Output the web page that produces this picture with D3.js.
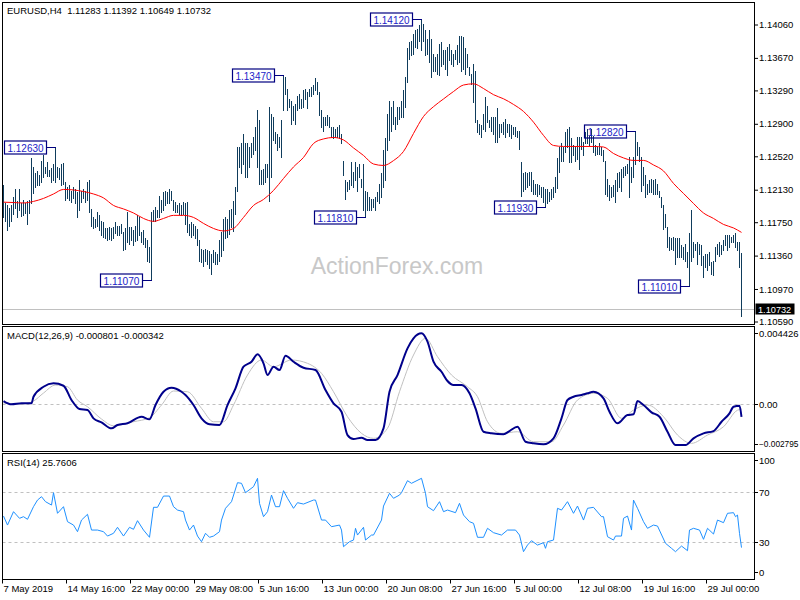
<!DOCTYPE html>
<html>
<head>
<meta charset="utf-8">
<script src="https://cdn.jsdelivr.net/npm/d3@7/dist/d3.min.js"></script>
<style>
html,body{margin:0;padding:0;background:#fff;}
svg{display:block;}
text{font-family:"Liberation Sans",Arial,sans-serif;}
</style>
</head>
<body>
<svg id="chart" width="800" height="600"></svg>
<script>
// ---------------- DATA ----------------
const symbolTitle = "EURUSD,H4  1.11283 1.11392 1.10649 1.10732";
const macdTitle = "MACD(12,26,9) -0.000801 -0.000342";
const rsiTitle = "RSI(14) 25.7606";
const watermark = "ActionForex.com";

// H4 bar highs / lows in pips (price * 10000)
const highPips = [
11218,11197,11195,11192,11195,11204,11214,11200,11214,11197,
11201,11197,11200,11201,11250,11239,11232,11235,11230,11247,
11254,11240,11245,11236,11238,11243,11263,11240,11238,11243,
11244,11222,11216,11218,11212,11216,11214,11210,11224,11212,
11214,11211,11222,11224,11191,11181,11179,11187,11183,11177,
11175,11168,11168,11169,11168,11169,11175,11171,11170,11173,
11164,11168,11187,11169,11169,11166,11170,11183,11181,11164,
11166,11156,11154,11146,11187,11189,11193,11189,11206,11201,
11210,11212,11210,11214,11212,11201,11199,11195,11197,11195,
11199,11197,11199,11173,11175,11173,11171,11167,11154,11144,
11142,11144,11142,11141,11138,11142,11140,11138,11154,11163,
11179,11181,11179,11189,11191,11200,11216,11263,11263,11267,
11278,11267,11267,11263,11267,11274,11286,11306,11294,11236,
11237,11243,11243,11310,11302,11298,11280,11278,11274,11294,
11347,11345,11331,11319,11317,11311,11313,11323,11325,11319,
11329,11331,11327,11331,11333,11335,11343,11339,11327,11306,
11298,11298,11300,11298,11286,11286,11284,11286,11288,11278,
11247,11224,11222,11224,11245,11234,11245,11239,11243,11226,
11243,11212,11210,11204,11202,11202,11204,11210,11220,11232,
11259,11273,11302,11317,11310,11317,11298,11310,11310,11317,
11329,11345,11378,11385,11387,11395,11399,11401,11405,11412,
11407,11399,11389,11399,11389,11372,11368,11372,11383,11385,
11376,11376,11380,11383,11376,11372,11376,11382,11393,11393,
11391,11378,11372,11356,11348,11360,11352,11294,11290,11288,
11302,11321,11311,11294,11298,11298,11298,11308,11290,11290,
11292,11296,11290,11290,11288,11286,11286,11282,11282,11245,
11232,11234,11232,11234,11234,11224,11220,11220,11218,11216,
11216,11214,11214,11210,11214,11216,11228,11250,11263,11267,
11263,11280,11284,11286,11273,11265,11263,11274,11274,11274,
11269,11280,11284,11276,11284,11276,11265,11263,11267,11263,
11259,11247,11226,11218,11216,11218,11224,11232,11234,11237,
11239,11241,11243,11251,11239,11251,11282,11269,11263,11251,
11239,11230,11220,11224,11226,11224,11226,11220,11212,11204,
11195,11185,11169,11158,11156,11158,11156,11156,11156,11148,
11146,11150,11140,11162,11189,11152,11150,11152,11150,11148,
11136,11138,11138,11140,11128,11130,11146,11150,11152,11148,
11154,11160,11160,11160,11158,11160,11162,11152,11152,11139.2];
const lowPips = [
11181,11177,11166,11170,11177,11185,11192,11181,11189,11182,
11183,11186,11173,11186,11197,11209,11216,11218,11218,11222,
11228,11232,11229,11229,11222,11224,11222,11228,11226,11218,
11220,11201,11203,11201,11199,11203,11197,11181,11189,11199,
11203,11199,11201,11187,11171,11168,11169,11171,11166,11160,
11158,11156,11154,11155,11154,11156,11162,11160,11160,11162,
11142,11144,11152,11150,11154,11148,11153,11154,11160,11152,
11150,11146,11130,11129,11107,11177,11177,11181,11181,11187,
11189,11195,11197,11197,11201,11189,11187,11187,11185,11183,
11185,11173,11164,11160,11158,11160,11156,11148,11130,11128,
11124,11130,11126,11122,11115,11128,11126,11126,11130,11136,
11142,11156,11158,11161,11169,11165,11185,11212,11239,11232,
11243,11228,11228,11239,11251,11255,11259,11239,11220,11220,
11220,11222,11228,11200,11228,11271,11267,11259,11263,11251,
11306,11325,11306,11310,11290,11294,11290,11306,11308,11308,
11310,11319,11308,11323,11323,11325,11329,11325,11300,11286,
11282,11288,11288,11286,11274,11273,11274,11274,11273,11267,
11230,11202,11212,11214,11218,11216,11224,11212,11228,11216,
11189,11181,11189,11189,11189,11193,11189,11200,11197,11204,
11216,11224,11259,11271,11282,11290,11284,11290,11296,11298,
11298,11310,11339,11366,11370,11372,11380,11378,11387,11376,
11387,11370,11372,11362,11345,11352,11352,11348,11347,11358,
11360,11354,11347,11364,11360,11358,11366,11360,11362,11352,
11354,11348,11356,11347,11337,11315,11292,11280,11278,11274,
11284,11282,11292,11286,11282,11278,11269,11269,11274,11280,
11278,11274,11280,11276,11273,11278,11276,11274,11261,11206,
11212,11214,11216,11218,11212,11208,11208,11206,11208,11204,
11199,11193,11197,11200,11202,11204,11210,11215,11234,11247,
11247,11257,11263,11245,11245,11253,11247,11249,11237,11261,
11253,11267,11267,11265,11269,11257,11253,11255,11255,11253,
11247,11208,11206,11201,11204,11206,11199,11212,11216,11212,
11228,11230,11232,11204,11222,11228,11243,11253,11247,11212,
11218,11204,11208,11210,11210,11208,11208,11208,11204,11193,
11167,11169,11146,11142,11144,11142,11126,11134,11134,11134,
11132,11130,11123,11101,11130,11134,11142,11126,11138,11125,
11111,11123,11119,11125,11115,11113,11130,11138,11136,11138,
11142,11148,11142,11146,11152,11152,11146,11142,11123,11064.9];

// red moving average (bar index, price)
const maBars = [0,5,10,15,20,25,30,35,40,45,50,55,60,65,70,75,80,85,90,95,100,105,110,115,120,125,130,135,140,145,150,155,160,165,170,175,180,185,190,195,200,205,210,215,220,225,230,235,240,245,250,255,260,265,270,275,280,285,290,295,300,305,310,315,320,325,330,335,340,345,350,355,360,365,369];
const maValues = [1.11984,1.11980,1.11975,1.11993,1.12028,1.12080,1.12133,1.12127,1.12109,1.12080,1.12034,1.11946,1.11905,1.11858,1.11794,1.11760,1.11794,1.11830,1.11830,1.11806,1.11736,1.11677,1.11648,1.11677,1.11806,1.11946,1.12016,1.12121,1.12261,1.12396,1.12507,1.12670,1.12723,1.12740,1.12711,1.12618,1.12530,1.12430,1.12413,1.12470,1.12577,1.12787,1.12985,1.13100,1.13190,1.13277,1.13353,1.13367,1.13312,1.13240,1.13192,1.13126,1.13044,1.12919,1.12764,1.12647,1.12635,1.12635,1.12635,1.12635,1.12629,1.12553,1.12501,1.12472,1.12472,1.12419,1.12349,1.12203,1.12086,1.11969,1.11858,1.11794,1.11724,1.11683,1.11631];

// MACD main line (bar index, value)
const macdBars = [0,4,9,14,15,20,25,30,34,38,42,45,49,54,57,62,69,73,76,80,84,89,91,95,99,103,108,112,116,120,124,127,130,132,135,138,141,145,150,156,161,165,169,172,175,179,182,186,190,193,197,202,205,209,212,215,219,222,225,229,233,236,240,244,250,253,257,261,265,270,275,279,282,285,289,292,295,300,303,307,312,315,317,320,324,328,332,336,341,345,350,355,359,363,365,368,369];
const macdValues = [0.000158,-0.000043,0.000018,0.000018,0.000420,0.001030,0.001237,0.001091,0.000219,-0.000329,-0.000390,-0.000896,-0.001140,-0.001505,-0.001304,-0.001200,-0.000798,-0.000957,-0.000085,0.000725,0.000969,0.000725,0.000524,-0.000085,-0.000896,-0.001261,-0.001304,-0.000085,0.000932,0.002249,0.002553,0.003004,0.002456,0.001743,0.002249,0.002048,0.002919,0.002553,0.002188,0.002048,0.000829,0.000018,-0.000494,-0.001914,-0.002157,-0.002078,-0.002218,-0.002218,-0.001505,0.000725,0.001743,0.003370,0.003979,0.004284,0.003772,0.002553,0.001944,0.001377,0.001133,0.001133,0.000628,-0.000286,-0.001712,-0.001810,-0.001871,-0.001670,-0.001408,-0.002322,-0.002419,-0.002480,-0.002115,-0.000896,0.000219,0.000420,0.000524,0.000628,0.000725,0.000323,-0.000494,-0.001200,-0.000695,-0.000652,0.000158,-0.000085,-0.000530,-0.000798,-0.001712,-0.002523,-0.002523,-0.002115,-0.001810,-0.001670,-0.001103,-0.000591,-0.000189,-0.000128,-0.000801];

// MACD signal line (bar index, value)
const signalBars = [0,9,15,20,26,32,37,42,49,55,65,73,79,85,92,99,105,110,115,122,129,135,144,152,159,165,172,179,185,192,198,205,211,217,224,232,237,242,249,257,265,274,280,287,295,302,309,315,322,330,337,344,352,360,367,369];
const signalValues = [0.000037,-0.000024,0.000158,0.000646,0.001133,0.001030,0.000219,-0.000189,-0.000938,-0.001347,-0.001103,-0.000859,-0.000085,0.000768,0.000725,-0.000286,-0.001103,-0.001103,-0.000085,0.001743,0.002657,0.002249,0.002657,0.002456,0.001846,0.000725,-0.000798,-0.001810,-0.002115,-0.001505,0.000725,0.002962,0.003979,0.002858,0.001743,0.001030,0.000420,-0.001103,-0.001810,-0.001712,-0.002322,-0.002322,-0.001304,0.000219,0.000628,0.000323,-0.000896,-0.000390,-0.000085,-0.000798,-0.001914,-0.002419,-0.001914,-0.001408,-0.000400,-0.000342];

// RSI(14) (bar index, value)
const rsiBars = [0,2,5,8,10,12,15,17,19,21,24,25,27,30,32,35,37,39,42,44,47,50,52,55,57,60,63,65,67,70,73,75,77,80,83,85,87,90,91,93,95,97,99,101,103,105,108,109,111,114,117,119,121,125,127,128,130,132,134,136,138,140,142,145,147,150,155,156,159,161,164,168,169,170,173,175,176,177,180,181,184,185,189,190,193,195,198,199,202,204,209,211,212,215,218,220,222,226,228,230,233,235,237,240,242,245,249,252,256,258,260,262,264,267,270,271,272,275,277,279,282,285,287,290,292,295,299,300,302,305,306,309,310,312,314,315,317,320,322,325,327,331,334,336,339,342,343,345,348,350,352,355,357,360,362,365,366,367,368,369];
const rsiValues = [51,43.8,54.5,49.2,50.5,48.4,58.5,63.8,66.5,62.5,59.8,69.7,53.2,58.5,46.5,43.8,38.5,47.8,52.4,39.8,39.8,38.5,35,37.2,42,35,42,40.4,47.3,39.8,34,58,58,67,67,58.5,55.8,54.5,47.8,39.8,43.8,35,30.5,37.2,34,35,38.5,47.8,57.2,62.5,77.7,77.2,69.7,74.5,81.2,61.2,50.5,54.5,67.8,58.5,58.5,71.3,65.2,57.2,61.7,60.6,63.8,63.8,47.8,47.8,42.5,43.8,39.8,26.5,30.5,31.8,41.2,35.8,42,31.8,35.8,35.8,47.8,59,69.2,65.2,67.8,69.7,79.3,77.2,81.2,69.2,58.5,55.3,62.5,54.5,55.8,53.7,61.2,51.8,46.5,45.2,34,34,41.2,37.7,35.8,39.8,39.8,35.8,22.5,27.8,31.3,27.8,29.7,25.2,30.5,31.8,57.2,55.8,62.5,53.2,59,47.8,57.2,58,50.5,50.5,34.5,31.8,35,35,49.2,51,39.8,63.8,57.2,46.5,41.2,43.8,43,29.2,25.2,22.5,27,23.3,39.8,41.2,39.8,32.4,41.2,36.6,47.8,45.7,53.2,53.7,50.5,51.8,37.2,25.7606];
const rsiLevels = [70, 30];

// axis labels
const timeLabels = ["7 May 2019","14 May 16:00","22 May 00:00","29 May 08:00","5 Jun 16:00","13 Jun 00:00","20 Jun 08:00","27 Jun 16:00","5 Jul 00:00","12 Jul 08:00","19 Jul 16:00","29 Jul 00:00"];
const timeLabelBars = [0,32,64,96,128,160,192,224,256,288,320,352];
const priceTicks = [1.14060,1.13670,1.13290,1.12900,1.12520,1.12130,1.11750,1.11360,1.10970,1.10590];
const macdTicks = [0.004426, 0, -0.002795];
const rsiTicks = [100, 70, 30, 0];

// swing-point price labels
const annBars = [26,74,140,181,209,271,316,343];
const annPrices = [1.12630,1.11070,1.13470,1.11810,1.14120,1.11930,1.12820,1.11010];
const lastPrice = 1.10732;

// ---------------- DRAW ----------------
const svg = d3.select("#chart");
const FS = 9.5;
const plotL = 2.5, plotR = 754.5;
const mainP = {top: 2.5, bottom: 324.5};
const macdP = {top: 326.5, bottom: 451.5};
const rsiP = {top: 453.5, bottom: 579.5};

const x = d3.scaleLinear().domain([0, highPips.length - 1]).range([3.5, 741.5]);
const yPrice = d3.scaleLinear().domain([1.10590, 1.14060]).range([321.5, 24.5]);
const yMacd = d3.scaleLinear().domain([-0.002795, 0.004426]).range([449.5, 331]);
const yRsi = d3.scaleLinear().domain([0, 100]).range([579.8, 454.8]);

const defs = svg.append("defs");
function addClip(id, p) {
  defs.append("clipPath").attr("id", id).append("rect")
    .attr("x", plotL).attr("y", p.top).attr("width", plotR - plotL).attr("height", p.bottom - p.top);
}
addClip("cMain", mainP); addClip("cMacd", macdP); addClip("cRsi", rsiP);

// watermark
svg.append("text").attr("x", 397).attr("y", 274).attr("text-anchor", "middle")
  .attr("font-size", 23).attr("fill", "#c8c8c8").text(watermark);

// ---- main panel ----
const gMain = svg.append("g").attr("clip-path", "url(#cMain)");
const lastY = Math.round(yPrice(lastPrice)) + 0.5;
gMain.append("line").attr("x1", plotL).attr("x2", plotR).attr("y1", lastY).attr("y2", lastY)
  .attr("stroke", "#c0c0c0").attr("stroke-width", 1);

const bars = highPips.map((h, i) => ({i, high: h / 1e4, low: lowPips[i] / 1e4}));
gMain.selectAll("line.bar").data(bars).join("line").attr("class", "bar")
  .attr("x1", d => x(d.i)).attr("x2", d => x(d.i))
  .attr("y1", d => Math.round(yPrice(d.high)))
  .attr("y2", d => Math.round(yPrice(d.low)) + 1)
  .attr("stroke", "#0f3c5c").attr("stroke-width", 1).attr("shape-rendering", "crispEdges");

const maData = maBars.map((b, k) => ({i: b, v: maValues[k]}));
gMain.append("path").datum(maData)
  .attr("d", d3.line().x(d => x(d.i)).y(d => yPrice(d.v)).curve(d3.curveMonotoneX))
  .attr("fill", "none").attr("stroke", "#ff0000").attr("stroke-width", 1);

// price labels
const gAnn = svg.append("g");
annBars.forEach((b, k) => {
  const px = x(b), py = Math.round(yPrice(annPrices[k])) + 0.5;
  const bw = 42, bh = 13;
  const bx = Math.round(px - 10 - bw) + 0.5;
  gAnn.append("line").attr("x1", bx + bw).attr("x2", px + 0.5).attr("y1", py).attr("y2", py)
    .attr("stroke", "#000080").attr("stroke-width", 1);
  gAnn.append("rect").attr("x", bx).attr("y", py - bh / 2).attr("width", bw).attr("height", bh)
    .attr("fill", "none").attr("stroke", "#000080").attr("stroke-width", 1.2);
  gAnn.append("text").attr("x", bx + 3).attr("y", py + 4)
    .attr("font-family", "'DejaVu Sans Mono','Liberation Mono',monospace")
    .attr("font-size", 10.5).attr("fill", "#1c1cc8")
    .attr("textLength", 36).attr("lengthAdjust", "spacingAndGlyphs")
    .text(d3.format(".5f")(annPrices[k]));
});

// ---- MACD panel ----
const gMacd = svg.append("g").attr("clip-path", "url(#cMacd)");
const zeroY = Math.round(yMacd(0)) + 0.5;
gMacd.append("line").attr("x1", plotL).attr("x2", plotR).attr("y1", zeroY).attr("y2", zeroY)
  .attr("stroke", "#c0c0c0").attr("stroke-dasharray", "3,3");
const sigData = signalBars.map((b, k) => ({i: b, v: signalValues[k]}));
gMacd.append("path").datum(sigData)
  .attr("d", d3.line().x(d => x(d.i)).y(d => yMacd(d.v)).curve(d3.curveMonotoneX))
  .attr("fill", "none").attr("stroke", "#c0c0c0").attr("stroke-width", 1);
const macdData = macdBars.map((b, k) => ({i: b, v: macdValues[k]}));
gMacd.append("path").datum(macdData)
  .attr("d", d3.line().x(d => x(d.i)).y(d => yMacd(d.v)).curve(d3.curveMonotoneX))
  .attr("fill", "none").attr("stroke", "#00008b").attr("stroke-width", 2).attr("stroke-linejoin", "round");

// ---- RSI panel ----
const gRsi = svg.append("g").attr("clip-path", "url(#cRsi)");
gRsi.selectAll("line.lvl").data(rsiLevels).join("line").attr("class", "lvl")
  .attr("x1", plotL).attr("x2", plotR)
  .attr("y1", d => Math.round(yRsi(d)) + 0.5).attr("y2", d => Math.round(yRsi(d)) + 0.5)
  .attr("stroke", "#c0c0c0").attr("stroke-dasharray", "3,3");
const rsiData = rsiBars.map((b, k) => ({i: b, v: rsiValues[k]}));
gRsi.append("path").datum(rsiData)
  .attr("d", d3.line().x(d => x(d.i)).y(d => yRsi(d.v)))
  .attr("fill", "none").attr("stroke", "#1e90ff").attr("stroke-width", 1);

// ---- frames ----
[mainP, macdP, rsiP].forEach(p => {
  svg.append("rect").attr("x", plotL).attr("y", p.top).attr("width", plotR - plotL).attr("height", p.bottom - p.top)
    .attr("fill", "none").attr("stroke", "#000").attr("stroke-width", 1).attr("shape-rendering", "crispEdges");
});

// ---- axes ----
function styleAxis(g) {
  g.select(".domain").remove();
  g.attr("font-size", FS).attr("font-family", "'Liberation Sans',Arial,sans-serif");
  g.selectAll(".tick line").attr("stroke", "#000");
  g.selectAll(".tick text").attr("fill", "#000");
}
function fitRight(g) {
  // shrink only labels that would run past the 800px canvas
  g.selectAll(".tick text").each(function () {
    const w = this.getComputedTextLength();
    if (w > 39.5) d3.select(this).attr("font-size", (FS * 39.5 / w).toFixed(2));
  });
}
svg.append("g").attr("transform", `translate(${plotR - 0.5},0)`)
  .call(d3.axisRight(yPrice).tickValues(priceTicks).tickSize(4).tickPadding(1).tickFormat(d3.format(".5f")))
  .call(styleAxis);

function clampTicks(g, scale, p) {
  g.selectAll(".tick").attr("transform", d =>
    `translate(0,${Math.max(p.top + 7, Math.min(p.bottom - 7, Math.round(scale(d)) + 0.5))})`);
}
svg.append("g").attr("transform", `translate(${plotR - 0.5},0)`)
  .call(d3.axisRight(yMacd).tickValues(macdTicks).tickSize(4).tickPadding(1)
    .tickFormat(d => d === 0 ? "0.00" : d3.format(".6f")(d)))
  .call(styleAxis).call(fitRight).call(g => clampTicks(g, yMacd, macdP));
svg.append("g").attr("transform", `translate(${plotR - 0.5},0)`)
  .call(d3.axisRight(yRsi).tickValues(rsiTicks).tickSize(4).tickPadding(1).tickFormat(d3.format("d")))
  .call(styleAxis).call(g => clampTicks(g, yRsi, rsiP));

// last price tag
svg.append("rect").attr("x", plotR + 1).attr("y", lastY - 6).attr("width", 39).attr("height", 11).attr("fill", "#000");
svg.append("text").attr("x", plotR + 3.5).attr("y", lastY + 3.5).attr("font-size", 9.2).attr("fill", "#fff")
  .text(d3.format(".5f")(lastPrice));

// time axis
svg.append("g").attr("transform", `translate(-1.5,${rsiP.bottom})`)
  .call(d3.axisBottom(x).tickValues(timeLabelBars).tickSize(4).tickFormat((d, k) => timeLabels[k]))
  .call(styleAxis)
  .call(g => g.selectAll(".tick text").attr("text-anchor", "start").attr("x", 1).attr("y", 6));

// titles
[[symbolTitle, 14], [macdTitle, 338.5], [rsiTitle, 466]].forEach(([t, yy]) => {
  svg.append("text").attr("x", 7).attr("y", yy).attr("font-size", FS).attr("fill", "#000")
    .style("white-space", "pre").text(t);
});
</script>
</body>
</html>
